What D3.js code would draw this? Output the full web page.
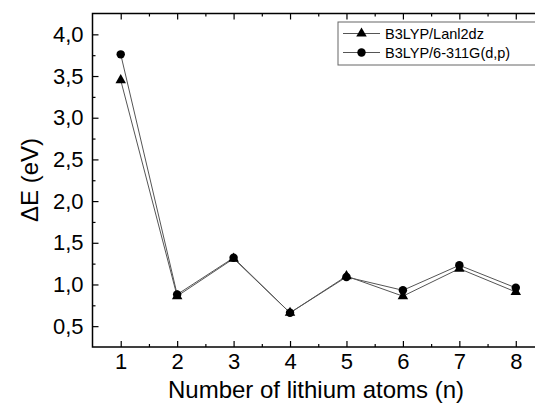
<!DOCTYPE html>
<html>
<head>
<meta charset="utf-8">
<script src="https://cdn.jsdelivr.net/npm/d3@7"></script>
<style>
  body { margin: 0; background: #fff; }
  svg { display: block; }
</style>
</head>
<body>
<div id="chart"></div>
<script>
// number of lithium atoms
var atoms = [1, 2, 3, 4, 5, 6, 7, 8];
// energy gap values (eV)
var lanl2dz = [3.45, 0.86, 1.31, 0.66, 1.10, 0.86, 1.19, 0.91];
var b6311 = [3.76, 0.88, 1.32, 0.66, 1.09, 0.93, 1.23, 0.96];
var seriesNames = ["B3LYP/Lanl2dz", "B3LYP/6-311G(d,p)"];
var yTickLabels = ["0,5", "1,0", "1,5", "2,0", "2,5", "3,0", "3,5", "4,0"];

var width = 535;
var height = 409;
var margin = { left: 92.5, top: 13.5, right: -9, bottom: 62 };

var svg = d3.select("#chart")
    .append("svg")
    .attr("width", width)
    .attr("height", height);

var x = d3.scaleLinear()
    .domain([0.5, 8.5])
    .range([margin.left, width - margin.right]);

var y = d3.scaleLinear()
    .domain([0.25, 4.25])
    .range([height - margin.bottom, margin.top]);

var font = "Arial, 'Liberation Sans', sans-serif";

// minor ticks (inward)
var xMinor = d3.range(1.5, 8.6, 1);
var yMinor = d3.range(0.75, 4.1, 0.5);
var yMajor = d3.range(0.5, 4.01, 0.5);

var bottomAxis = d3.axisBottom(x).tickValues(atoms).tickSize(-6).tickPadding(6).tickFormat(d3.format("d"));
var topAxis = d3.axisTop(x).tickValues(atoms).tickSize(-6).tickFormat("");
var leftAxis = d3.axisLeft(y).tickValues(yMajor).tickSize(-6).tickPadding(9)
    .tickFormat(function (d, i) { return yTickLabels[i]; });

function styleAxis(g) {
    g.select(".domain").remove();
    g.selectAll("line").attr("stroke", "#000").attr("stroke-width", 1.2);
    g.selectAll("text")
        .style("font-family", font)
        .style("font-size", "22px")
        .attr("fill", "#000");
}

svg.append("g")
    .attr("transform", "translate(0," + y.range()[0] + ")")
    .call(bottomAxis)
    .call(styleAxis);

svg.append("g")
    .attr("transform", "translate(0," + y.range()[1] + ")")
    .call(topAxis)
    .call(styleAxis);

svg.append("g")
    .attr("transform", "translate(" + x.range()[0] + ",0)")
    .call(leftAxis)
    .call(styleAxis);

svg.append("g")
    .attr("transform", "translate(0," + y.range()[0] + ")")
    .call(d3.axisBottom(x).tickValues(xMinor).tickSize(-3).tickFormat(""))
    .call(styleAxis);

svg.append("g")
    .attr("transform", "translate(0," + y.range()[1] + ")")
    .call(d3.axisTop(x).tickValues(xMinor).tickSize(-3).tickFormat(""))
    .call(styleAxis);

svg.append("g")
    .attr("transform", "translate(" + x.range()[0] + ",0)")
    .call(d3.axisLeft(y).tickValues(yMinor).tickSize(-3).tickFormat(""))
    .call(styleAxis);

// frame
svg.append("rect")
    .attr("x", x.range()[0])
    .attr("y", y.range()[1])
    .attr("width", x.range()[1] - x.range()[0])
    .attr("height", y.range()[0] - y.range()[1])
    .attr("fill", "none")
    .attr("stroke", "#000")
    .attr("stroke-width", 1.5);

// lines
var line = d3.line()
    .x(function (d, i) { return x(atoms[i]); })
    .y(function (d) { return y(d); });

[lanl2dz, b6311].forEach(function (s) {
    svg.append("path")
        .datum(s)
        .attr("d", line)
        .attr("fill", "none")
        .attr("stroke", "#555")
        .attr("stroke-width", 1);
});

var triangle = d3.symbol().type(d3.symbolTriangle).size(48);
var circle = d3.symbol().type(d3.symbolCircle).size(56);

svg.selectAll(".tri")
    .data(lanl2dz)
    .enter()
    .append("path")
    .attr("class", "tri")
    .attr("d", triangle)
    .attr("transform", function (d, i) { return "translate(" + x(atoms[i]) + "," + y(d) + ")"; })
    .attr("fill", "#000");

svg.selectAll(".dot")
    .data(b6311)
    .enter()
    .append("path")
    .attr("class", "dot")
    .attr("d", circle)
    .attr("transform", function (d, i) { return "translate(" + x(atoms[i]) + "," + y(d) + ")"; })
    .attr("fill", "#000");

// legend
var legend = svg.append("g")
    .attr("transform", "translate(338,22)");

legend.append("rect")
    .attr("width", 205)
    .attr("height", 43)
    .attr("fill", "#fff")
    .attr("stroke", "#666")
    .attr("stroke-width", 1);

var legendRows = legend.selectAll(".row")
    .data(seriesNames)
    .enter()
    .append("g")
    .attr("class", "row")
    .attr("transform", function (d, i) { return "translate(0," + (11.5 + i * 19) + ")"; });

legendRows.append("line")
    .attr("x1", 5)
    .attr("x2", 42)
    .attr("stroke", "#555")
    .attr("stroke-width", 1);

legendRows.append("path")
    .attr("d", function (d, i) { return i == 0 ? triangle() : circle(); })
    .attr("transform", "translate(23.5,0)")
    .attr("fill", "#000");

legendRows.append("text")
    .attr("x", 47)
    .attr("dy", "0.35em")
    .style("font-family", font)
    .style("font-size", "14.5px")
    .attr("fill", "#000")
    .text(function (d) { return d; });

// axis titles
svg.append("text")
    .attr("x", 316)
    .attr("y", 398)
    .attr("text-anchor", "middle")
    .style("font-family", font)
    .style("font-size", "24px")
    .text("Number of lithium atoms (n)");

svg.append("text")
    .attr("transform", "translate(38,180) rotate(-90)")
    .attr("text-anchor", "middle")
    .style("font-family", font)
    .style("font-size", "24px")
    .text("ΔE (eV)");
</script>
</body>
</html>
